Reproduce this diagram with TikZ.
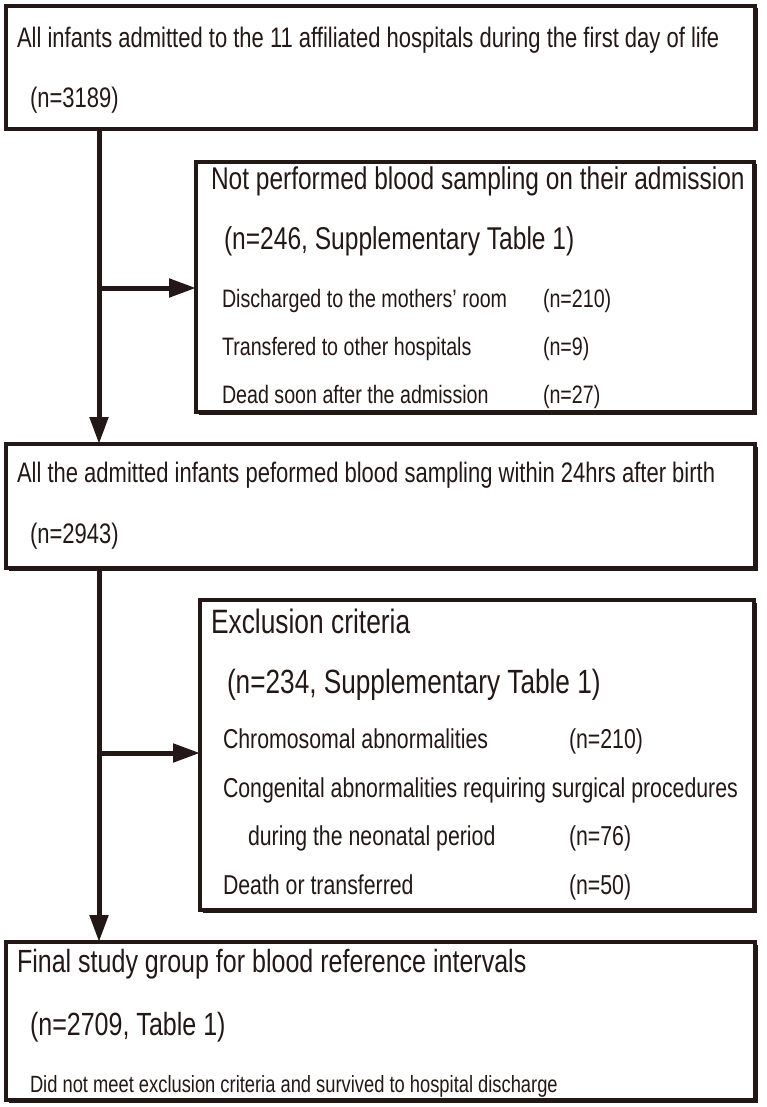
\documentclass[tikz,border=0pt]{standalone}
\usepackage{fontspec}
\setmainfont{Liberation Sans}[FakeStretch=0.78]
\usetikzlibrary{arrows.meta,shadows}
\definecolor{ink}{RGB}{35,24,21}
\newcommand\fsz[1]{\fontsize{#1pt}{#1pt}\selectfont}
\tikzset{
  box/.style={draw=ink, line width=3.5pt, fill=white, rectangle, inner sep=0pt, outer sep=0pt, anchor=north west,
    general shadow={fill=ink, shadow xshift=2.5pt, shadow yshift=-2.5pt}},
  txt/.style={anchor=base west, inner sep=0pt, outer sep=0pt, text=ink},
  flow/.style={draw=ink, line width=5pt, -{Triangle[length=27pt,width=18pt]}},
}
\begin{document}
\begin{tikzpicture}[x=1pt,y=-1pt]
\useasboundingbox (0,0) rectangle (766,1107);
% boxes
\node[box, minimum width=749pt, minimum height=123pt] (b1) at (6,6) {};
\node[box, minimum width=558pt, minimum height=250pt] (np) at (196,162) {};
\node[box, minimum width=749pt, minimum height=124pt] (b2) at (6,444) {};
\node[box, minimum width=554pt, minimum height=310pt] (ex) at (200,600) {};
\node[box, minimum width=749pt, minimum height=158pt] (fin) at (6,942) {};
% junctions
\coordinate (j1) at (99,288);
\coordinate (j2) at (99,753);
% connectors
\draw[flow] (b1.south -| j1) -- (b2.north -| j1);
\draw[flow] (j1) -- (np.west |- j1);
\draw[flow] (b2.south -| j2) -- (fin.north -| j2);
\draw[flow] (j2) -- (ex.west |- j2);
% box 1
\node[txt, font=\fsz{28.2}] (t1a) at (17,48) {All infants admitted to the 11 affiliated hospitals during the first day of life};
\node[txt, font=\fsz{28.2}] (t1b) at (30,108) {(n=3189)};
% not performed
\node[txt, font=\fsz{31.4}] (t2a) at (211,190) {Not performed blood sampling on their admission};
\node[txt, font=\fsz{31.5}] (t2b) at (224,250) {(n=246, Supplementary Table 1)};
\node[txt, font=\fsz{25.2}] (t2c) at (222,307) {Discharged to the mothers’ room};
\node[txt, font=\fsz{25.2}] (t2d) at (222,355) {Transfered to other hospitals};
\node[txt, font=\fsz{25.2}] (t2e) at (222,403) {Dead soon after the admission};
\node[txt, font=\fsz{25.2}] (n2c) at (543,307) {(n=210)};
\node[txt, font=\fsz{25.2}] (n2d) at (543,355) {(n=9)};
\node[txt, font=\fsz{25.2}] (n2e) at (543,403) {(n=27)};
% box 2
\node[txt, font=\fsz{28.2}] (t3a) at (17,482) {All the admitted infants peformed blood sampling within 24hrs after birth};
\node[txt, font=\fsz{28.2}] (t3b) at (30,543) {(n=2943)};
% exclusion
\node[txt, font=\fsz{33.8}] (t4a) at (211,633) {Exclusion criteria};
\node[txt, font=\fsz{33.6}] (t4b) at (227,693) {(n=234, Supplementary Table 1)};
\node[txt, font=\fsz{27.3}] (t4c) at (223,748) {Chromosomal abnormalities};
\node[txt, font=\fsz{27.3}] (t4d) at (223,797) {Congenital abnormalities requiring surgical procedures};
\node[txt, font=\fsz{27.3}] (t4e) at (248,845) {during the neonatal period};
\node[txt, font=\fsz{27.3}] (t4f) at (223,894) {Death or transferred};
\node[txt, font=\fsz{27.3}] (n4c) at (569,748) {(n=210)};
\node[txt, font=\fsz{27.3}] (n4e) at (569,845) {(n=76)};
\node[txt, font=\fsz{27.3}] (n4f) at (569,894) {(n=50)};
% final
\node[txt, font=\fsz{32.1}] (t5a) at (17,972) {Final study group for blood reference intervals};
\node[txt, font=\fsz{32.1}] (t5b) at (30,1035) {(n=2709, Table 1)};
\node[txt, font=\fsz{23.5}] (t5c) at (30,1092) {Did not meet exclusion criteria and survived to hospital discharge};
\end{tikzpicture}
\end{document}
